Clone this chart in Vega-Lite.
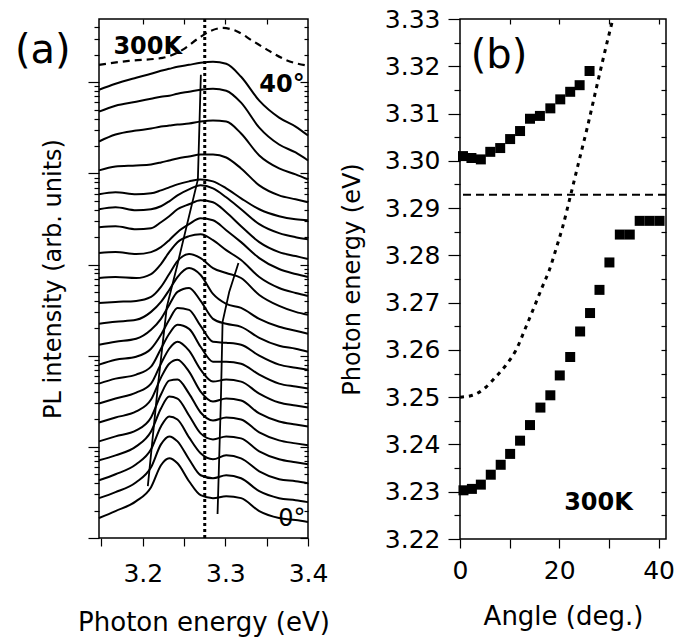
{
  "$schema": "https://vega.github.io/schema/vega-lite/v6.json",
  "padding": {"left": 14, "top": 6, "right": 9, "bottom": 2},
  "background": "white",
  "config": {
    "view": {"stroke": "black", "strokeWidth": 1.5},
    "font": "DejaVu Sans",
    "axis": {"grid": false, "domain": false, "tickColor": "black", "labelColor": "black", "titleColor": "black", "labelFont": "DejaVu Sans", "titleFont": "DejaVu Sans", "titleFontWeight": "normal", "tickWidth": 1.2}
  },
  "datasets": {
    "curves": [
      {"a":0,"e":3.147,"v":20},{"a":0,"e":3.167,"v":27},{"a":0,"e":3.192,"v":37},{"a":0,"e":3.210,"v":51},{"a":0,"e":3.222,"v":73},{"a":0,"e":3.232,"v":80},{"a":0,"e":3.242,"v":75},{"a":0,"e":3.256,"v":57},{"a":0,"e":3.270,"v":43},{"a":0,"e":3.285,"v":40},{"a":0,"e":3.301,"v":42},{"a":0,"e":3.319,"v":40},{"a":0,"e":3.341,"v":27},{"a":0,"e":3.365,"v":20},{"a":0,"e":3.385,"v":18},{"a":0,"e":3.400,"v":16},
      {"a":2,"e":3.147,"v":40},{"a":2,"e":3.167,"v":46},{"a":2,"e":3.192,"v":56},{"a":2,"e":3.210,"v":71},{"a":2,"e":3.222,"v":94},{"a":2,"e":3.232,"v":102},{"a":2,"e":3.242,"v":97},{"a":2,"e":3.256,"v":79},{"a":2,"e":3.270,"v":63},{"a":2,"e":3.285,"v":60},{"a":2,"e":3.301,"v":63},{"a":2,"e":3.319,"v":60},{"a":2,"e":3.341,"v":47},{"a":2,"e":3.365,"v":40},{"a":2,"e":3.385,"v":38},{"a":2,"e":3.400,"v":36},
      {"a":4,"e":3.147,"v":58},{"a":4,"e":3.167,"v":64},{"a":4,"e":3.192,"v":74},{"a":4,"e":3.210,"v":89},{"a":4,"e":3.222,"v":112},{"a":4,"e":3.232,"v":122},{"a":4,"e":3.242,"v":119},{"a":4,"e":3.256,"v":101},{"a":4,"e":3.270,"v":85},{"a":4,"e":3.285,"v":79},{"a":4,"e":3.301,"v":83},{"a":4,"e":3.319,"v":80},{"a":4,"e":3.341,"v":67},{"a":4,"e":3.365,"v":59},{"a":4,"e":3.385,"v":57},{"a":4,"e":3.400,"v":55},
      {"a":6,"e":3.147,"v":78},{"a":6,"e":3.167,"v":83},{"a":6,"e":3.192,"v":92},{"a":6,"e":3.210,"v":107},{"a":6,"e":3.222,"v":130},{"a":6,"e":3.232,"v":142},{"a":6,"e":3.242,"v":140},{"a":6,"e":3.256,"v":123},{"a":6,"e":3.270,"v":105},{"a":6,"e":3.285,"v":99},{"a":6,"e":3.301,"v":102},{"a":6,"e":3.319,"v":100},{"a":6,"e":3.341,"v":87},{"a":6,"e":3.365,"v":79},{"a":6,"e":3.385,"v":76},{"a":6,"e":3.400,"v":74},
      {"a":8,"e":3.147,"v":97},{"a":8,"e":3.167,"v":102},{"a":8,"e":3.192,"v":108},{"a":8,"e":3.210,"v":121},{"a":8,"e":3.222,"v":144},{"a":8,"e":3.232,"v":158},{"a":8,"e":3.242,"v":159},{"a":8,"e":3.256,"v":145},{"a":8,"e":3.270,"v":126},{"a":8,"e":3.285,"v":118},{"a":8,"e":3.301,"v":121},{"a":8,"e":3.319,"v":119},{"a":8,"e":3.341,"v":106},{"a":8,"e":3.365,"v":98},{"a":8,"e":3.385,"v":95},{"a":8,"e":3.400,"v":93},
      {"a":10,"e":3.147,"v":116},{"a":10,"e":3.167,"v":121},{"a":10,"e":3.192,"v":127},{"a":10,"e":3.210,"v":139},{"a":10,"e":3.222,"v":161},{"a":10,"e":3.232,"v":175},{"a":10,"e":3.242,"v":179},{"a":10,"e":3.256,"v":167},{"a":10,"e":3.270,"v":147},{"a":10,"e":3.285,"v":137},{"a":10,"e":3.301,"v":140},{"a":10,"e":3.319,"v":138},{"a":10,"e":3.341,"v":125},{"a":10,"e":3.365,"v":117},{"a":10,"e":3.385,"v":114},{"a":10,"e":3.400,"v":112},
      {"a":12,"e":3.147,"v":135},{"a":12,"e":3.167,"v":140},{"a":12,"e":3.192,"v":146},{"a":12,"e":3.210,"v":155},{"a":12,"e":3.222,"v":175},{"a":12,"e":3.232,"v":190},{"a":12,"e":3.242,"v":197},{"a":12,"e":3.256,"v":188},{"a":12,"e":3.270,"v":169},{"a":12,"e":3.285,"v":157},{"a":12,"e":3.301,"v":159},{"a":12,"e":3.319,"v":157},{"a":12,"e":3.341,"v":145},{"a":12,"e":3.365,"v":136},{"a":12,"e":3.385,"v":133},{"a":12,"e":3.400,"v":131},
      {"a":14,"e":3.147,"v":155},{"a":14,"e":3.167,"v":160},{"a":14,"e":3.192,"v":164},{"a":14,"e":3.210,"v":172},{"a":14,"e":3.222,"v":190},{"a":14,"e":3.232,"v":205},{"a":14,"e":3.242,"v":214},{"a":14,"e":3.256,"v":210},{"a":14,"e":3.270,"v":192},{"a":14,"e":3.285,"v":177},{"a":14,"e":3.301,"v":177},{"a":14,"e":3.319,"v":175},{"a":14,"e":3.341,"v":164},{"a":14,"e":3.365,"v":155},{"a":14,"e":3.385,"v":152},{"a":14,"e":3.400,"v":150},
      {"a":16,"e":3.147,"v":174},{"a":16,"e":3.167,"v":179},{"a":16,"e":3.192,"v":182},{"a":16,"e":3.210,"v":190},{"a":16,"e":3.222,"v":204},{"a":16,"e":3.232,"v":219},{"a":16,"e":3.242,"v":231},{"a":16,"e":3.256,"v":229},{"a":16,"e":3.270,"v":213},{"a":16,"e":3.285,"v":197},{"a":16,"e":3.301,"v":196},{"a":16,"e":3.319,"v":194},{"a":16,"e":3.341,"v":183},{"a":16,"e":3.365,"v":174},{"a":16,"e":3.385,"v":171},{"a":16,"e":3.400,"v":169},
      {"a":18,"e":3.147,"v":194},{"a":18,"e":3.167,"v":197},{"a":18,"e":3.192,"v":200},{"a":18,"e":3.210,"v":209},{"a":18,"e":3.222,"v":220},{"a":18,"e":3.232,"v":234},{"a":18,"e":3.242,"v":247},{"a":18,"e":3.256,"v":251},{"a":18,"e":3.270,"v":238},{"a":18,"e":3.285,"v":220},{"a":18,"e":3.301,"v":215},{"a":18,"e":3.319,"v":212},{"a":18,"e":3.341,"v":201},{"a":18,"e":3.365,"v":193},{"a":18,"e":3.385,"v":190},{"a":18,"e":3.400,"v":187},
      {"a":20,"e":3.147,"v":215},{"a":20,"e":3.167,"v":217},{"a":20,"e":3.192,"v":219},{"a":20,"e":3.210,"v":227},{"a":20,"e":3.222,"v":237},{"a":20,"e":3.232,"v":249},{"a":20,"e":3.242,"v":262},{"a":20,"e":3.256,"v":271},{"a":20,"e":3.270,"v":264},{"a":20,"e":3.285,"v":245},{"a":20,"e":3.301,"v":235},{"a":20,"e":3.319,"v":231},{"a":20,"e":3.341,"v":220},{"a":20,"e":3.365,"v":212},{"a":20,"e":3.385,"v":208},{"a":20,"e":3.400,"v":205},
      {"a":22,"e":3.147,"v":236},{"a":22,"e":3.167,"v":237},{"a":22,"e":3.192,"v":238},{"a":22,"e":3.210,"v":242},{"a":22,"e":3.222,"v":252},{"a":22,"e":3.232,"v":265},{"a":22,"e":3.242,"v":278},{"a":22,"e":3.256,"v":285},{"a":22,"e":3.270,"v":281},{"a":22,"e":3.285,"v":271},{"a":22,"e":3.301,"v":266},{"a":22,"e":3.319,"v":261},{"a":22,"e":3.341,"v":244},{"a":22,"e":3.365,"v":233},{"a":22,"e":3.385,"v":227},{"a":22,"e":3.400,"v":224},
      {"a":24,"e":3.147,"v":261},{"a":24,"e":3.167,"v":262},{"a":24,"e":3.192,"v":261},{"a":24,"e":3.210,"v":265},{"a":24,"e":3.222,"v":275},{"a":24,"e":3.232,"v":287},{"a":24,"e":3.242,"v":297},{"a":24,"e":3.256,"v":303},{"a":24,"e":3.270,"v":305},{"a":24,"e":3.285,"v":299},{"a":24,"e":3.301,"v":289},{"a":24,"e":3.319,"v":279},{"a":24,"e":3.341,"v":262},{"a":24,"e":3.365,"v":251},{"a":24,"e":3.385,"v":246},{"a":24,"e":3.400,"v":243},
      {"a":26,"e":3.147,"v":286},{"a":26,"e":3.167,"v":287},{"a":26,"e":3.192,"v":285},{"a":26,"e":3.210,"v":287},{"a":26,"e":3.222,"v":292},{"a":26,"e":3.232,"v":299},{"a":26,"e":3.242,"v":307},{"a":26,"e":3.256,"v":315},{"a":26,"e":3.270,"v":321},{"a":26,"e":3.285,"v":319},{"a":26,"e":3.301,"v":309},{"a":26,"e":3.319,"v":297},{"a":26,"e":3.341,"v":281},{"a":26,"e":3.365,"v":270},{"a":26,"e":3.385,"v":265},{"a":26,"e":3.400,"v":262},
      {"a":28,"e":3.147,"v":312},{"a":28,"e":3.167,"v":313},{"a":28,"e":3.192,"v":310},{"a":28,"e":3.210,"v":311},{"a":28,"e":3.222,"v":317},{"a":28,"e":3.232,"v":323},{"a":28,"e":3.242,"v":330},{"a":28,"e":3.256,"v":335},{"a":28,"e":3.270,"v":339},{"a":28,"e":3.285,"v":337},{"a":28,"e":3.301,"v":327},{"a":28,"e":3.319,"v":313},{"a":28,"e":3.341,"v":297},{"a":28,"e":3.365,"v":287},{"a":28,"e":3.385,"v":283},{"a":28,"e":3.400,"v":280},
      {"a":30,"e":3.147,"v":330},{"a":30,"e":3.167,"v":332},{"a":30,"e":3.192,"v":329},{"a":30,"e":3.210,"v":330},{"a":30,"e":3.222,"v":333},{"a":30,"e":3.232,"v":338},{"a":30,"e":3.242,"v":344},{"a":30,"e":3.256,"v":350},{"a":30,"e":3.270,"v":354},{"a":30,"e":3.285,"v":351},{"a":30,"e":3.301,"v":342},{"a":30,"e":3.319,"v":330},{"a":30,"e":3.341,"v":315},{"a":30,"e":3.365,"v":306},{"a":30,"e":3.385,"v":302},{"a":30,"e":3.400,"v":300},
      {"a":32,"e":3.147,"v":345},{"a":32,"e":3.167,"v":347},{"a":32,"e":3.192,"v":345},{"a":32,"e":3.210,"v":346},{"a":32,"e":3.222,"v":349},{"a":32,"e":3.232,"v":352},{"a":32,"e":3.242,"v":355},{"a":32,"e":3.256,"v":358},{"a":32,"e":3.270,"v":360},{"a":32,"e":3.285,"v":358},{"a":32,"e":3.301,"v":351},{"a":32,"e":3.319,"v":341},{"a":32,"e":3.341,"v":330},{"a":32,"e":3.365,"v":323},{"a":32,"e":3.385,"v":320},{"a":32,"e":3.400,"v":319},
      {"a":34,"e":3.147,"v":369},{"a":34,"e":3.167,"v":373},{"a":34,"e":3.192,"v":374},{"a":34,"e":3.210,"v":375},{"a":34,"e":3.222,"v":377},{"a":34,"e":3.232,"v":379},{"a":34,"e":3.242,"v":381},{"a":34,"e":3.256,"v":383},{"a":34,"e":3.270,"v":385},{"a":34,"e":3.285,"v":385},{"a":34,"e":3.301,"v":382},{"a":34,"e":3.319,"v":371},{"a":34,"e":3.341,"v":354},{"a":34,"e":3.365,"v":344},{"a":34,"e":3.385,"v":340},{"a":34,"e":3.400,"v":337},
      {"a":36,"e":3.147,"v":398},{"a":36,"e":3.167,"v":405},{"a":36,"e":3.192,"v":409},{"a":36,"e":3.210,"v":411},{"a":36,"e":3.222,"v":413},{"a":36,"e":3.232,"v":414},{"a":36,"e":3.242,"v":415},{"a":36,"e":3.256,"v":416},{"a":36,"e":3.270,"v":418},{"a":36,"e":3.285,"v":419},{"a":36,"e":3.301,"v":418},{"a":36,"e":3.319,"v":406},{"a":36,"e":3.341,"v":384},{"a":36,"e":3.365,"v":371},{"a":36,"e":3.385,"v":365},{"a":36,"e":3.400,"v":360},
      {"a":38,"e":3.147,"v":428},{"a":38,"e":3.167,"v":434},{"a":38,"e":3.192,"v":438},{"a":38,"e":3.210,"v":441},{"a":38,"e":3.222,"v":443},{"a":38,"e":3.232,"v":444},{"a":38,"e":3.242,"v":446},{"a":38,"e":3.256,"v":448},{"a":38,"e":3.270,"v":450},{"a":38,"e":3.285,"v":451},{"a":38,"e":3.301,"v":449},{"a":38,"e":3.319,"v":437},{"a":38,"e":3.341,"v":412},{"a":38,"e":3.365,"v":395},{"a":38,"e":3.385,"v":387},{"a":38,"e":3.400,"v":379},
      {"a":40,"e":3.147,"v":450},{"a":40,"e":3.167,"v":456},{"a":40,"e":3.192,"v":462},{"a":40,"e":3.210,"v":466},{"a":40,"e":3.222,"v":469},{"a":40,"e":3.232,"v":471},{"a":40,"e":3.242,"v":473},{"a":40,"e":3.256,"v":475},{"a":40,"e":3.270,"v":477},{"a":40,"e":3.285,"v":478},{"a":40,"e":3.301,"v":476},{"a":40,"e":3.319,"v":463},{"a":40,"e":3.341,"v":439},{"a":40,"e":3.365,"v":422},{"a":40,"e":3.385,"v":413},{"a":40,"e":3.400,"v":404}
    ],
    "k300": [
      {"e":3.147,"v":475},{"e":3.183,"v":479},{"e":3.224,"v":482},{"e":3.248,"v":490},{"e":3.268,"v":502},{"e":3.282,"v":509},{"e":3.297,"v":512},{"e":3.313,"v":509},{"e":3.333,"v":499},{"e":3.353,"v":489},{"e":3.373,"v":480},{"e":3.400,"v":474}
    ],
    "guides": [
      {"g":"L","e":3.2061,"v":52},{"g":"L","e":3.2182,"v":152},{"g":"L","e":3.2291,"v":232},{"g":"L","e":3.2412,"v":272},{"g":"L","e":3.2667,"v":360},{"g":"L","e":3.2703,"v":465},
      {"g":"R","e":3.2905,"v":24},{"g":"R","e":3.2945,"v":137},{"g":"R","e":3.2966,"v":217},{"g":"R","e":3.3046,"v":247},{"g":"R","e":3.3158,"v":276}
    ],
    "squares": [
      {"ang":0.6,"en":3.3010},{"ang":2.3,"en":3.3006},{"ang":4.2,"en":3.3003},{"ang":6.1,"en":3.3019},{"ang":8.1,"en":3.3027},{"ang":10.1,"en":3.3046},{"ang":12.1,"en":3.3063},{"ang":14.1,"en":3.3089},{"ang":16.1,"en":3.3095},{"ang":18.2,"en":3.3111},{"ang":20.2,"en":3.3130},{"ang":22.2,"en":3.3146},{"ang":24.1,"en":3.3160},{"ang":26.1,"en":3.3190},
      {"ang":0.7,"en":3.2303},{"ang":2.4,"en":3.2306},{"ang":4.2,"en":3.2315},{"ang":6.2,"en":3.2336},{"ang":8.2,"en":3.2357},{"ang":10.1,"en":3.2380},{"ang":12.1,"en":3.2408},{"ang":14.1,"en":3.2441},{"ang":16.2,"en":3.2478},{"ang":18.2,"en":3.2504},{"ang":20.1,"en":3.2546},{"ang":22.2,"en":3.2585},{"ang":24.2,"en":3.2639},{"ang":26.2,"en":3.2678},{"ang":28.1,"en":3.2727},{"ang":30.1,"en":3.2785},{"ang":32.2,"en":3.2844},{"ang":34.2,"en":3.2844},{"ang":36.2,"en":3.2873},{"ang":38.2,"en":3.2873},{"ang":40.2,"en":3.2873}
    ],
    "photon": [
      {"ang":0,"en":3.2500},{"ang":2.5,"en":3.2504},{"ang":5.2,"en":3.2521},{"ang":7.2,"en":3.2543},{"ang":9.2,"en":3.2567},{"ang":11.25,"en":3.2599},{"ang":13.3,"en":3.2649},{"ang":14.95,"en":3.2691},{"ang":16.6,"en":3.2734},{"ang":18.0,"en":3.2769},{"ang":19.3,"en":3.2812},{"ang":20.7,"en":3.2861},{"ang":22.3,"en":3.2928},{"ang":23.7,"en":3.2988},{"ang":25.7,"en":3.3073},{"ang":27.8,"en":3.3169},{"ang":29.8,"en":3.3258},{"ang":30.8,"en":3.3300}
    ]
  },
  "bounds": "flush",
  "spacing": 152,
  "hconcat": [
    {
      "width": 209,
      "height": 519,
      "resolve": {"axis": {"x": "independent", "y": "independent"}},
      "layer": [
        {
          "data": {"name": "curves"},
          "mark": {"type": "line", "interpolate": "monotone", "color": "black", "strokeWidth": 2},
          "encoding": {
            "x": {"field": "e", "type": "quantitative", "scale": {"domain": [3.147, 3.4], "nice": false, "zero": false},
              "axis": {"orient": "bottom", "values": [3.15, 3.2, 3.25, 3.3, 3.35, 3.4], "labelExpr": "round(datum.value*100) % 10 == 0 ? format(datum.value, '.1f') : ''", "tickSize": 8, "labelFontSize": 25, "labelPadding": 15, "labelFlush": false, "title": "Photon energy (eV)", "titleFontSize": 26, "titlePadding": 23}},
            "y": {"field": "v", "type": "quantitative", "scale": {"domain": [0, 521], "nice": false, "zero": false},
              "axis": {"orient": "left", "values": [0,27.5,43.7,55.1,64,71.2,77.3,82.6,87.3,91.5,119,135.2,146.6,155.5,162.7,168.8,174.1,178.8,183,210.5,226.7,238.1,247,254.2,260.3,265.6,270.3,274.5,302,318.2,329.6,338.5,345.7,351.8,357.1,361.8,366,393.5,409.7,421.1,430,437.2,443.3,448.6,453.3,457.5,485,501.2,512.6],
                "labels": false, "tickSize": {"condition": {"test": "indexof([0,91.5,183,274.5,366,457.5], datum.value) >= 0", "value": 11}, "value": 5},
                "title": "PL intensity (arb. units)", "titleFontSize": 24, "titlePadding": 22}},
            "detail": {"field": "a", "type": "nominal"}
          }
        },
        {
          "data": {"name": "k300"},
          "mark": {"type": "line", "color": "black", "strokeWidth": 2.2, "strokeDash": [7, 5], "interpolate": "monotone"},
          "encoding": {
            "x": {"field": "e", "type": "quantitative", "axis": null},
            "y": {"field": "v", "type": "quantitative", "axis": null}
          }
        },
        {
          "data": {"name": "guides"},
          "mark": {"type": "line", "color": "black", "strokeWidth": 1.8},
          "encoding": {
            "x": {"field": "e", "type": "quantitative", "axis": null},
            "y": {"field": "v", "type": "quantitative", "axis": null},
            "detail": {"field": "g", "type": "nominal"},
            "order": {"field": "v", "type": "quantitative"}
          }
        },
        {
          "data": {"values": [{"e": 3.275}]},
          "mark": {"type": "rule", "color": "black", "strokeWidth": 3, "strokeDash": [3, 3]},
          "encoding": {
            "x": {"field": "e", "type": "quantitative", "axis": null}
          }
        },
        {
          "data": {"values": [{"t": "(a)", "e": 3.079, "v": 489}]},
          "mark": {"type": "text", "fontSize": 40, "align": "center", "baseline": "middle", "color": "black", "clip": false},
          "encoding": {
            "x": {"field": "e", "type": "quantitative", "axis": null},
            "y": {"field": "v", "type": "quantitative", "axis": null},
            "text": {"field": "t"}
          }
        },
        {
          "data": {"values": [{"t": "300K", "e": 3.206, "v": 493}, {"t": "40°", "e": 3.3685, "v": 455}]},
          "mark": {"type": "text", "fontSize": 24, "fontWeight": "bold", "align": "center", "baseline": "middle", "color": "black"},
          "encoding": {
            "x": {"field": "e", "type": "quantitative", "axis": null},
            "y": {"field": "v", "type": "quantitative", "axis": null},
            "text": {"field": "t"}
          }
        },
        {
          "data": {"values": [{"t": "0°", "e": 3.3806, "v": 19}]},
          "mark": {"type": "text", "fontSize": 24, "align": "center", "baseline": "middle", "color": "black"},
          "encoding": {
            "x": {"field": "e", "type": "quantitative",
              "axis": {"orient": "top", "values": [3.2, 3.25, 3.3, 3.35], "labels": false, "tickSize": -5, "title": null}},
            "y": {"field": "v", "type": "quantitative",
              "axis": {"orient": "right", "values": [0,27.5,43.7,55.1,64,71.2,77.3,82.6,87.3,91.5,119,135.2,146.6,155.5,162.7,168.8,174.1,178.8,183,210.5,226.7,238.1,247,254.2,260.3,265.6,270.3,274.5,302,318.2,329.6,338.5,345.7,351.8,357.1,361.8,366,393.5,409.7,421.1,430,437.2,443.3,448.6,453.3,457.5,485,501.2,512.6],
                "labels": false, "tickSize": {"condition": {"test": "indexof([0,91.5,183,274.5,366,457.5], datum.value) >= 0", "value": -8}, "value": -4}, "title": null}},
            "text": {"field": "t"}
          }
        }
      ]
    },
    {
      "width": 206,
      "height": 520,
      "resolve": {"axis": {"x": "independent", "y": "independent"}},
      "layer": [
        {
          "data": {"name": "squares"},
          "mark": {"type": "point", "shape": "square", "filled": true, "size": 100, "color": "black", "opacity": 1},
          "encoding": {
            "x": {"field": "ang", "type": "quantitative", "scale": {"domain": [0, 41.5], "nice": false, "zero": false},
              "axis": {"orient": "bottom", "values": [0, 10, 20, 30, 40], "labelExpr": "datum.value % 20 == 0 ? datum.label : ''", "tickSize": 9, "labelFontSize": 25, "labelPadding": 10, "labelFlush": false, "title": "Angle (deg.)", "titleFontSize": 26, "titlePadding": 20}},
            "y": {"field": "en", "type": "quantitative", "scale": {"domain": [3.22, 3.33], "nice": false, "zero": false},
              "axis": {"orient": "left", "values": [3.22,3.225,3.23,3.235,3.24,3.245,3.25,3.255,3.26,3.265,3.27,3.275,3.28,3.285,3.29,3.295,3.3,3.305,3.31,3.315,3.32,3.325,3.33],
                "labelExpr": "abs(datum.value*100 - round(datum.value*100)) < 0.01 ? format(datum.value, '.2f') : ''",
                "tickSize": {"condition": {"test": "abs(datum.value*100 - round(datum.value*100)) < 0.01", "value": 12}, "value": 6},
                "labelFontSize": 25, "labelPadding": 8, "labelFlush": false, "title": "Photon energy (eV)", "titleFontSize": 24, "titlePadding": 20}}
          }
        },
        {
          "data": {"values": [{"en": 3.2928}]},
          "mark": {"type": "rule", "color": "black", "strokeWidth": 2, "strokeDash": [8, 5]},
          "encoding": {
            "y": {"field": "en", "type": "quantitative", "axis": null}
          }
        },
        {
          "data": {"name": "photon"},
          "mark": {"type": "line", "color": "black", "strokeWidth": 3, "strokeDash": [4, 5], "interpolate": "monotone"},
          "encoding": {
            "x": {"field": "ang", "type": "quantitative", "axis": null},
            "y": {"field": "en", "type": "quantitative", "axis": null}
          }
        },
        {
          "data": {"values": [{"t": "(b)", "ang": 7.86, "en": 3.3222}]},
          "mark": {"type": "text", "fontSize": 40, "align": "center", "baseline": "middle", "color": "black"},
          "encoding": {
            "x": {"field": "ang", "type": "quantitative", "axis": null},
            "y": {"field": "en", "type": "quantitative", "axis": null},
            "text": {"field": "t"}
          }
        },
        {
          "data": {"values": [{"t": "300K", "ang": 27.9, "en": 3.2276}]},
          "mark": {"type": "text", "fontSize": 24, "fontWeight": "bold", "align": "center", "baseline": "middle", "color": "black"},
          "encoding": {
            "x": {"field": "ang", "type": "quantitative",
              "axis": {"orient": "top", "values": [10, 20, 30, 40], "labels": false, "tickSize": -5, "title": null}},
            "y": {"field": "en", "type": "quantitative",
              "axis": {"orient": "right", "values": [3.225,3.23,3.235,3.24,3.245,3.25,3.255,3.26,3.265,3.27,3.275,3.28,3.285,3.29,3.295,3.3,3.305,3.31,3.315,3.32,3.325], "labels": false, "tickSize": -5, "title": null}},
            "text": {"field": "t"}
          }
        }
      ]
    }
  ]
}
